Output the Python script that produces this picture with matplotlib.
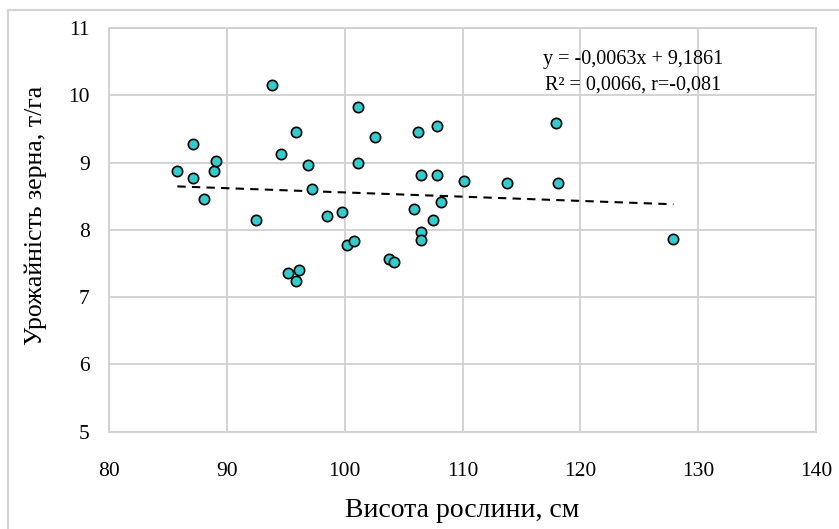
import numpy as np
import matplotlib.pyplot as plt
from matplotlib.patches import Rectangle

# plant height, cm
height = [85.8, 87.1, 87.1, 88.1, 88.9, 89.1, 92.5, 93.8, 94.6, 95.9,
          96.9, 97.2, 95.2, 96.1, 95.9, 98.5, 99.8, 100.2, 100.8, 101.1,
          101.1, 102.6, 103.8, 104.2, 105.9, 106.2, 106.5, 106.5, 106.5, 107.5,
          107.8, 107.8, 108.2, 110.1, 113.8, 117.9, 118.1, 127.9]
# grain yield, t/ha
yield_t = [8.87, 9.28, 8.77, 8.46, 8.87, 9.03, 8.15, 10.15, 9.12, 9.46,
           8.97, 8.61, 7.36, 7.41, 7.24, 8.20, 8.26, 7.78, 7.83, 9.82,
           9.00, 9.38, 7.57, 7.52, 8.31, 9.46, 8.82, 7.97, 7.85, 8.15,
           8.82, 9.54, 8.41, 8.72, 8.69, 9.59, 8.69, 7.87]

slope = -0.0063
intercept = 9.1861
eq_text = 'y = -0,0063x + 9,1861\nR² = 0,0066, r=-0,081'

x_ticks = [80, 90, 100, 110, 120, 130, 140]
y_ticks = [5, 6, 7, 8, 9, 10, 11]

plt.rcParams['font.family'] = ['Liberation Serif', 'DejaVu Serif']

fig = plt.figure(figsize=(8.39, 5.29), dpi=100)
fig.patches.append(Rectangle((8 / 839, -0.1), 1.1, 1 - 10 / 529 + 0.1,
                             transform=fig.transFigure, fill=False,
                             edgecolor='#d4d4d4', linewidth=1.5))

ax = fig.add_axes([109 / 839, 1 - 431.7 / 529, (816 - 109) / 839, (431.7 - 28) / 529])
ax.set_xlim(80, 140)
ax.set_ylim(5, 11)
ax.set_xticks(x_ticks)
ax.set_yticks(y_ticks)
ax.grid(True, color='#d0d0d0', linewidth=1.3)
ax.set_axisbelow(True)
for s in ax.spines.values():
    s.set_color('#d0d0d0')
    s.set_linewidth(1.3)
ax.tick_params(length=0, labelsize=15.5, colors='black')
ax.tick_params(axis='x', pad=22)
ax.tick_params(axis='y', pad=14)

xs = np.array([min(height), max(height)])
ax.plot(xs, slope * xs + intercept, color='black', linestyle=(0, (4, 3)), linewidth=1.5)
ax.scatter(height, yield_t, s=55, facecolor='#33cccc', edgecolor='black', linewidth=1.2, zorder=3)

ax.text(0.741, 0.945, eq_text, transform=ax.transAxes, fontsize=14.5,
        ha='center', va='top', linespacing=1.45)

ax.set_xlabel('Висота рослини, см', fontsize=20)
ax.set_ylabel('Урожайність зерна, т/га', fontsize=18.5)
ax.xaxis.set_label_coords(0.5, -0.163)
ax.yaxis.set_label_coords(-0.088, 0.537)

fig.savefig('out.png', dpi=100)
